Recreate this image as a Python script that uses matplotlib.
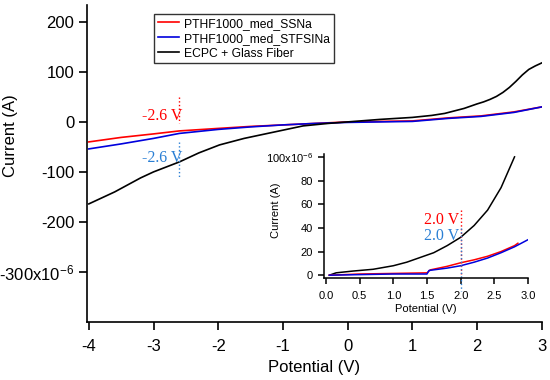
import matplotlib
matplotlib.use("Agg")
import matplotlib.pyplot as plt

plt.rcParams['font.family'] = ['Liberation Sans', 'DejaVu Sans']
plt.rcParams['axes.unicode_minus'] = False
plt.rcParams['mathtext.fontset'] = 'custom'
plt.rcParams['mathtext.rm'] = 'Liberation Sans'
plt.rcParams['mathtext.it'] = 'Liberation Sans:italic'

# main plot data (current in units of 1e-6 A)
v_black = [-4.0, -3.8, -3.6, -3.4, -3.2, -3.0, -2.8, -2.6, -2.3, -1.98, -1.6, -1.2, -0.69,
           -0.3, 0.0, 0.5, 1.0, 1.3, 1.5, 1.8, 2.0, 2.1, 2.2, 2.3, 2.4, 2.5, 2.6, 2.7, 2.8,
           2.9, 3.0]
i_black = [-164, -152, -140, -126, -112, -100, -90, -80, -62, -46, -33, -22, -8,
           -3, 0, 5, 9, 13, 17, 27, 36, 40, 45, 51, 59, 69, 81, 94, 105,
           112, 118]

v_red = [-4.0, -3.5, -3.0, -2.6, -2.0, -1.5, -1.0, -0.5, 0.0, 0.5, 1.0, 1.55, 2.06, 2.57, 3.0]
i_red = [-40, -31, -24, -18, -13, -9, -6, -3, 0, 1, 2, 8, 12, 20, 30]

v_blue = [-4.0, -3.5, -3.0, -2.6, -2.0, -1.5, -1.0, -0.5, 0.0, 0.5, 1.0, 1.55, 2.06, 2.57, 3.0]
i_blue = [-54, -44, -33, -23, -15, -10, -6, -3, -1, 0, 1, 7, 11, 19, 30]

# inset data
vi_black = [0.05, 0.15, 0.4, 0.7, 1.0, 1.2, 1.4, 1.6, 1.8, 2.0, 2.2, 2.4, 2.6, 2.8]
ii_black = [0, 2, 3.5, 5, 8, 11, 15, 19, 25, 32, 42, 55, 74, 100]

vi_red = [0.05, 0.5, 1.0, 1.5, 1.55, 1.8, 2.0, 2.2, 2.4, 2.6, 2.8, 2.85]
ii_red = [0, 1, 1.5, 2, 4.5, 7.5, 10.5, 13, 16, 20, 25, 27]

vi_blue = [0.05, 0.5, 1.0, 1.5, 1.53, 1.8, 2.0, 2.2, 2.4, 2.6, 2.8, 3.0]
ii_blue = [0, 0.5, 1, 1, 4, 6, 8, 11, 14.5, 19, 24, 30]

labels = ['PTHF1000_med_SSNa', 'PTHF1000_med_STFSINa', 'ECPC + Glass Fiber']
yticks_main = [-300, -200, -100, 0, 100, 200]
yticklabels_main = ['-300x10$^{-6}$', '-200', '-100', '0', '100', '200']
yticks_inset = [0, 20, 40, 60, 80, 100]
yticklabels_inset = ['0', '20', '40', '60', '80', '100x10$^{-6}$']

fig = plt.figure(figsize=(5.5, 3.8), dpi=100)
ax = fig.add_axes([0.158, 0.153, 0.827, 0.834])
ax.plot(v_red, i_red, color='red', lw=1.2, label=labels[0])
ax.plot(v_blue, i_blue, color='#0000dd', lw=1.2, label=labels[1])
ax.plot(v_black, i_black, color='black', lw=1.2, label=labels[2])
ax.set_xlim(-4.03, 3.0)
ax.set_ylim(-400, 234)
ax.set_xticks([-4, -3, -2, -1, 0, 1, 2, 3])
ax.set_yticks(yticks_main)
ax.set_yticklabels(yticklabels_main)
ax.spines['top'].set_visible(False)
ax.spines['right'].set_visible(False)
ax.tick_params(direction='out', length=6, width=1.2, labelsize=12)
ax.tick_params(axis='x', pad=6)
ax.tick_params(axis='y', pad=3)
for s in ax.spines.values():
    s.set_linewidth(1.2)
ax.set_xlabel('Potential (V)', fontsize=12, labelpad=5)
ax.set_ylabel('Current (A)', fontsize=12)
ax.yaxis.set_label_coords(-0.152, 0.587)

leg = ax.legend(loc='upper left', bbox_to_anchor=(0.28, 0.963), bbox_transform=fig.transFigure,
                fontsize=8.7, frameon=True, fancybox=False, handlelength=1.8,
                borderpad=0.3, labelspacing=0.25, handletextpad=0.4, borderaxespad=0)
leg.get_frame().set_edgecolor('black')
leg.get_frame().set_linewidth(1.0)

# -2.6 V markers
ax.plot([-2.6, -2.6], [50, -2], color='red', ls=':', lw=1)
ax.plot([-2.6, -2.6], [-40, -112], color='#2a7fd4', ls=':', lw=1)
ax.text(-2.55, 12, '-2.6 V', color='red', family='Liberation Serif', fontsize=11.5,
        ha='right', va='center')
ax.text(-2.55, -72, '-2.6 V', color='#2a7fd4', family='Liberation Serif', fontsize=11.5,
        ha='right', va='center')

# inset
ins = fig.add_axes([0.589, 0.268, 0.371, 0.327])
ins.plot(vi_black, ii_black, color='black', lw=1.1)
ins.plot(vi_red, ii_red, color='red', lw=1.1)
ins.plot(vi_blue, ii_blue, color='#0000dd', lw=1.1)
ins.set_xlim(-0.03, 3.0)
ins.set_ylim(-2.5, 102.5)
ins.set_xticks([0.0, 0.5, 1.0, 1.5, 2.0, 2.5, 3.0])
ins.set_xticklabels(['0.0', '0.5', '1.0', '1.5', '2.0', '2.5', '3.0'])
ins.set_yticks(yticks_inset)
ins.set_yticklabels(yticklabels_inset)
ins.spines['top'].set_visible(False)
ins.spines['right'].set_visible(False)
for s in ins.spines.values():
    s.set_linewidth(1.1)
ins.tick_params(direction='out', length=4.5, width=1.1, labelsize=8)
ins.tick_params(axis='x', pad=5)
ins.set_xlabel('Potential (V)', fontsize=8, labelpad=2)
ins.set_ylabel('Current (A)', fontsize=8)
ins.yaxis.set_label_coords(-0.21, 0.55)
ins.patch.set_alpha(0)
ins.plot([2.0, 2.0], [55, 0], color='red', ls=':', lw=1, clip_on=False)
ins.plot([2.0, 2.0], [40, -13], color='#2a7fd4', ls=':', lw=1, clip_on=False)
ins.text(1.97, 47, '2.0 V', color='red', family='Liberation Serif', fontsize=11.5,
         ha='right', va='center')
ins.text(1.97, 33, '2.0 V', color='#2a7fd4', family='Liberation Serif', fontsize=11.5,
         ha='right', va='center')

fig.savefig('out.png', dpi=100)
